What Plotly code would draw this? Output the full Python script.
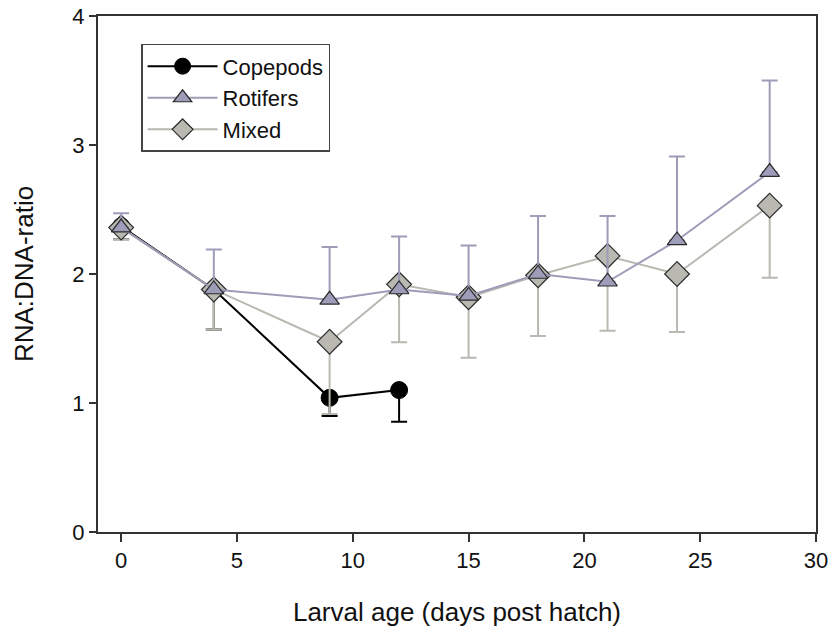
import plotly.graph_objects as go

days = [0, 4, 9, 12, 15, 18, 21, 24, 28]
cope_x = [0, 4, 9, 12]
cope_y = [2.37, 1.88, 1.04, 1.10]
cope_err_lo = [0.10, 0.31, 0.14, 0.245]
rot_y = [2.36, 1.88, 1.80, 1.88, 1.83, 2.00, 1.94, 2.26, 2.79]
rot_err_hi = [0.11, 0.31, 0.41, 0.41, 0.39, 0.45, 0.51, 0.65, 0.71]
mix_y = [2.36, 1.88, 1.475, 1.92, 1.82, 1.99, 2.14, 2.00, 2.53]
mix_err_lo = [0.09, 0.31, 0.56, 0.45, 0.47, 0.47, 0.58, 0.45, 0.56]

ROT = "#9d9cb9"
MIX = "#b9b9b2"
font = "Liberation Sans, Arial, sans-serif"

fig = go.Figure()
fig.add_trace(go.Scatter(
    x=cope_x, y=cope_y, name="Copepods", mode="lines+markers", legendrank=1,
    line=dict(color="black", width=2),
    marker=dict(symbol="circle", size=17, color="black", line=dict(color="black", width=1)),
    error_y=dict(type="data", symmetric=False, array=[0] * len(cope_x), arrayminus=cope_err_lo,
                 color="black", thickness=2, width=8),
))
fig.add_trace(go.Scatter(
    x=days, y=mix_y, name="Mixed", mode="lines+markers", legendrank=3,
    line=dict(color=MIX, width=2),
    marker=dict(symbol="diamond", size=19, color=MIX, line=dict(color="#2a2a2a", width=1.2)),
    error_y=dict(type="data", symmetric=False, array=[0] * len(days), arrayminus=mix_err_lo,
                 color=MIX, thickness=2, width=8),
))
fig.add_trace(go.Scatter(
    x=days, y=rot_y, name="Rotifers", mode="lines+markers", legendrank=2,
    line=dict(color=ROT, width=2),
    marker=dict(symbol="triangle-up", size=17, color=ROT, line=dict(color="#2a2a2a", width=1.2)),
    error_y=dict(type="data", symmetric=False, array=rot_err_hi, arrayminus=[0] * len(days),
                 color=ROT, thickness=2, width=8),
))

fig.update_layout(
    width=831, height=630,
    margin=dict(l=98, r=15, t=16, b=98, autoexpand=False),
    paper_bgcolor="white", plot_bgcolor="white",
    font=dict(family=font, size=22, color="#111"),
    showlegend=True,
    legend=dict(x=0.06, y=0.946, xanchor="left", yanchor="top",
                bordercolor="#444", borderwidth=1.5, bgcolor="white",
                font=dict(size=22, family=font),
                itemwidth=70, tracegroupgap=0),
)
fig.update_xaxes(
    range=[-1, 30], tickvals=[0, 5, 10, 15, 20, 25, 30], automargin=False,
    showgrid=False, zeroline=False, showline=True, linecolor="#333", linewidth=2,
    mirror=True, ticks="outside", ticklen=8, tickwidth=2, tickcolor="#333",
    tickfont=dict(size=22),
    title=dict(text="Larval age (days post hatch)", font=dict(size=26), standoff=30),
)
fig.update_yaxes(
    range=[0, 4], tickvals=[0, 1, 2, 3, 4], automargin=False,
    showgrid=False, zeroline=False, showline=True, linecolor="#333", linewidth=2,
    mirror=True, ticks="outside", ticklen=7, tickwidth=2, tickcolor="#333",
    tickfont=dict(size=22),
    title=dict(text="RNA:DNA-ratio", font=dict(size=26), standoff=31),
)

fig.write_html("out.html", config={"displayModeBar": False},
               post_script="document.body.style.margin='0';document.body.style.overflow='hidden';")
